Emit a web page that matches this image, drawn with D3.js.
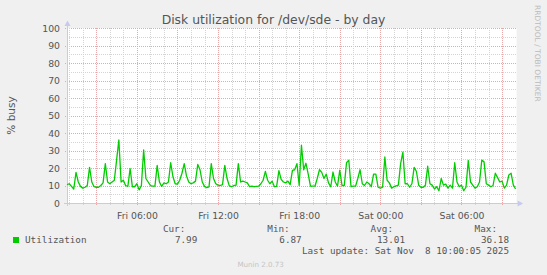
<!DOCTYPE html>
<html>
<head>
<meta charset="utf-8">
<title>Disk utilization for /dev/sde - by day</title>
<script src="https://d3js.org/d3.v7.min.js"></script>
<style>
body { margin: 0; background: #f0f0f0; }
text { font-family: "DejaVu Sans", sans-serif; fill: #555; }
.mono { font-family: "DejaVu Sans Mono", monospace; }
</style>
</head>
<body>
<script>
// samples every 10 minutes, starting Fri 00:50, ending Sat 10:00
var startTime = new Date(2025, 10, 7, 0, 50);
var stepMinutes = 10;
var busy = [
  10.5, 11, 9.5, 8, 17.5, 12, 9.5, 8.5, 9, 10,
  20.4, 12, 9.3, 9, 9, 10, 11.5, 22.5, 12, 11,
  12, 13, 24.5, 36, 12, 13, 10, 9.5, 19.7, 9.3,
  9.3, 11, 7.5, 10, 30.3, 14, 12, 10, 9.6, 9.6,
  21.5, 12, 9.5, 11.5, 11, 12, 23, 15, 11, 10.8,
  13, 17, 22.5, 15.5, 12, 11, 11.5, 12.5, 22, 19,
  12, 9.5, 8.8, 9.2, 22.5, 14, 11, 10.2, 10, 10.5,
  21.5, 14, 9.8, 9.3, 10, 10.2, 22.5, 12, 12.5, 12,
  11.5, 9.3, 9.6, 9.3, 9.5, 9.6, 11, 13, 18.1, 13,
  11, 12.5, 9.3, 9.5, 18.5, 13.5, 12, 11.5, 12.5, 10.5,
  18.7, 19, 22.5, 10, 33, 19, 22.7, 16.5, 9.6, 9.6,
  9.6, 14, 19, 17.5, 14, 16.5, 11.5, 9.3, 17.7, 12,
  9.6, 18.7, 10, 10, 23, 24.5, 9.3, 9.6, 9.6, 14,
  19, 11, 10, 12, 11, 9.3, 16.5, 16.5, 9, 8.5,
  9, 26.3, 13, 11.5, 8.5, 9.3, 9.8, 10.2, 22.5, 29,
  11, 11, 9, 11, 20.4, 18, 10.2, 9, 9, 10.2,
  21, 11, 10.2, 8, 9.3, 7, 14, 10.2, 10.8, 8.5,
  10.2, 8.5, 23, 12, 9.3, 10.2, 7, 9, 24.4, 12,
  10.2, 8.5, 9.3, 12, 24.5, 23.5, 11, 10.2, 9.3, 10,
  17, 14.5, 12, 12.5, 8.5, 10.2, 16, 17, 10.2, 8
];
var yTicks = [0, 10, 20, 30, 40, 50, 60, 70, 80, 90, 100];
var statLabels = ["Cur:", "Min:", "Avg:", "Max:"];
var statValues = ["7.99", "6.87", "13.01", "36.18"];
var seriesName = "Utilization";
var lastUpdate = "Last update: Sat Nov  8 10:00:05 2025";

var W = 547, H = 275;
var pL = 67, pR = 515.6, pT = 28, pB = 203;

var data = busy.map(function(v, i) {
  return { t: new Date(+startTime + i * stepMinutes * 60000), v: v };
});

var x = d3.scaleTime()
    .domain([data[0].t, data[data.length - 1].t])
    .range([pL, pR]);
var y = d3.scaleLinear().domain([0, 100]).range([pB, pT]);

var svg = d3.select("body").append("svg")
    .attr("width", W).attr("height", H);

svg.append("rect").attr("width", W).attr("height", H).attr("fill", "#f0f0f0");
svg.append("rect")
    .attr("x", pL).attr("y", pT)
    .attr("width", pR - pL + 1).attr("height", pB - pT)
    .attr("fill", "#fff");

var minorCol = "#d4d4d4", majorCol = "#e8a8a8";

// y grid
var yMinor = d3.range(5, 100, 10);
svg.selectAll(".ymin").data(yMinor).enter().append("line")
    .attr("x1", pL).attr("x2", pR + 1)
    .attr("y1", function(d) { return Math.round(y(d)) + 0.5; })
    .attr("y2", function(d) { return Math.round(y(d)) + 0.5; })
    .attr("stroke", minorCol).attr("stroke-dasharray", "1,1");
svg.selectAll(".ymaj").data(yTicks.slice(1)).enter().append("line")
    .attr("x1", pL - 2).attr("x2", pR + 1)
    .attr("y1", function(d) { return Math.round(y(d)) + 0.5; })
    .attr("y2", function(d) { return Math.round(y(d)) + 0.5; })
    .attr("stroke", majorCol).attr("stroke-dasharray", "1,1");

// x grid
var hours = d3.timeHour.range(x.domain()[0], x.domain()[1]);
svg.selectAll(".xmin").data(hours.filter(function(d) { return d.getHours() % 3 != 0; }))
  .enter().append("line")
    .attr("x1", function(d) { return Math.round(x(d)) + 0.5; })
    .attr("x2", function(d) { return Math.round(x(d)) + 0.5; })
    .attr("y1", pT).attr("y2", pB + 2)
    .attr("stroke", minorCol).attr("stroke-dasharray", "1,1");
svg.selectAll(".xmaj").data(hours.filter(function(d) { return d.getHours() % 3 == 0; }))
  .enter().append("line")
    .attr("x1", function(d) { return Math.round(x(d)) + 0.5; })
    .attr("x2", function(d) { return Math.round(x(d)) + 0.5; })
    .attr("y1", pT).attr("y2", pB + 3)
    .attr("stroke", majorCol).attr("stroke-dasharray", "1,1");

// axes lines with arrows
var axisCol = "#c6c9f0";
svg.append("line").attr("x1", pL - 3).attr("x2", pR + 3)
    .attr("y1", pB + 0.5).attr("y2", pB + 0.5).attr("stroke", axisCol);
svg.append("line").attr("x1", pL + 0.5).attr("x2", pL + 0.5)
    .attr("y1", pB + 3).attr("y2", pT - 3).attr("stroke", axisCol);
svg.append("path").attr("d", "M" + (pR + 2) + "," + (pB - 2.5) + "L" + (pR + 7.5) + "," + (pB + 0.5) + "L" + (pR + 2) + "," + (pB + 3.5) + "Z")
    .attr("fill", axisCol);
svg.append("path").attr("d", "M" + (pL - 2.5) + "," + (pT - 2) + "L" + (pL + 0.5) + "," + (pT - 7.5) + "L" + (pL + 3.5) + "," + (pT - 2) + "Z")
    .attr("fill", axisCol);

// y labels
svg.selectAll(".ylab").data(yTicks).enter().append("text")
    .attr("x", pL - 7).attr("y", function(d) { return y(d) + 3.5; })
    .attr("text-anchor", "end").style("font-size", "9.3px")
    .text(function(d) { return d; });

// x labels
var xAxis = svg.append("g")
    .attr("transform", "translate(0," + pB + ")")
    .call(d3.axisBottom(x).ticks(d3.timeHour.every(6))
      .tickFormat(d3.timeFormat("%a %H:%M")).tickSize(0).tickPadding(9));
xAxis.select(".domain").remove();
xAxis.selectAll("text").style("font-size", "9.3px").attr("fill", "#555")
    .style("font-family", "DejaVu Sans, sans-serif");

// data line
var line = d3.line()
    .x(function(d) { return x(d.t); })
    .y(function(d) { return y(d.v); });
svg.append("path").datum(data)
    .attr("d", line).attr("fill", "none")
    .attr("stroke", "#00cc00").attr("stroke-width", 1.3)
    .attr("stroke-linejoin", "round");

// title
svg.append("text").attr("x", W / 2).attr("y", 24)
    .attr("text-anchor", "middle").style("font-size", "12.4px")
    .text("Disk utilization for /dev/sde - by day");

// y axis title
svg.append("text")
    .attr("transform", "translate(15," + ((pT + pB) / 2) + ") rotate(-90)")
    .attr("text-anchor", "middle").style("font-size", "10.5px")
    .text("% busy");

// watermark
svg.append("text")
    .attr("transform", "translate(535,5) rotate(90)")
    .style("font-size", "7.5px").style("fill", "#bbb")
    .text("RRDTOOL / TOBI OETIKER");

// legend
svg.append("rect").attr("x", 13).attr("y", 237).attr("width", 6).attr("height", 6)
    .attr("fill", "#00cc00");
svg.append("text").attr("class", "mono").attr("x", 25).attr("y", 243)
    .style("font-size", "9.3px").text(seriesName);
var statX = [197.3, 301.7, 405, 509];
statLabels.forEach(function(s, i) {
  svg.append("text").attr("class", "mono").attr("x", statX[i] - 12).attr("y", 231.5)
      .attr("text-anchor", "end").style("font-size", "9.3px").text(s);
  svg.append("text").attr("class", "mono").attr("x", statX[i]).attr("y", 243)
      .attr("text-anchor", "end").style("font-size", "9.3px").text(statValues[i]);
});
svg.append("text").attr("class", "mono").attr("x", 509).attr("y", 254.3)
    .attr("text-anchor", "end").style("font-size", "9.3px")
    .style("white-space", "pre").attr("xml:space", "preserve")
    .text(lastUpdate);

svg.append("text").attr("x", 260.7).attr("y", 266.7)
    .attr("text-anchor", "middle").style("font-size", "7.1px").style("fill", "#c4c4c4")
    .text("Munin 2.0.73");
</script>
</body>
</html>
